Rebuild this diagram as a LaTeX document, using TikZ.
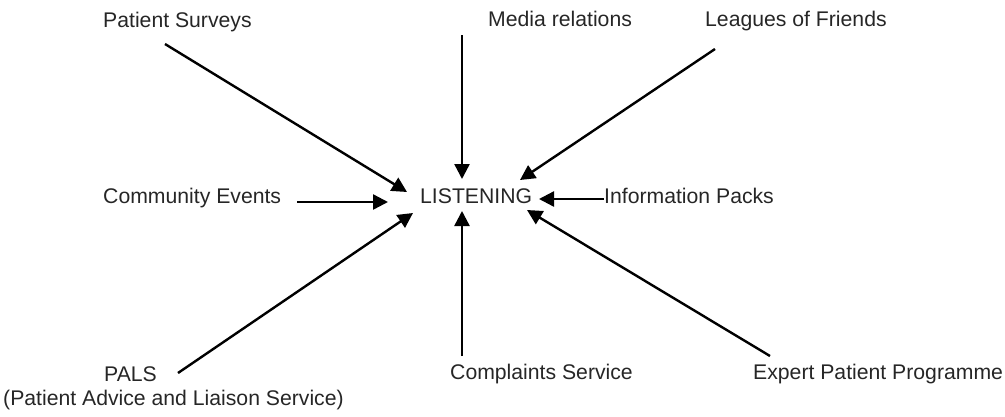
\documentclass[tikz,border=0pt]{standalone}
\usepackage{fontspec}
\setmainfont{Liberation Sans}
\usetikzlibrary{arrows.meta}
\tikzset{
  source/.style={anchor=base west,inner sep=0pt,text=black!85},
  feed/.style={line width=2.4pt,-{Triangle[length=15pt,width=15pt]}}
}
\begin{document}
\begin{tikzpicture}[x=1pt,y=-1pt,font=\fontsize{21.2}{25}\selectfont]
\useasboundingbox (0,0) rectangle (1005,416);
% labels round the centre
\node[source] (surveys) at (103,27) {Patient Surveys};
\node[source] (media) at (488,26) {Media relations};
\node[source] (leagues) at (705,26) {Leagues of Friends};
\node[source] (community) at (103,203) {Community Events};
\node[source] (listen) at (420,203) {LISTENING};
\node[source] (packs) at (604,203) {Information Packs};
\node[source] (pals) at (104,381) {PALS};
\node[source] (palsfull) at (3,405) {(Patient Advice and Liaison Service)};
\node[source] (complaints) at (450,379) {Complaints Service};
\node[source] (expert) at (753,379) {Expert Patient Programme};
% arrows into LISTENING
\foreach \name/\fx/\fy/\tx/\ty in {surveys/165/44/407/192,media/462/35/462/179,
  leagues/715/49/520/180,community/297/202/388/202,packs/604/199/539/199,
  pals/178/373/413/213,complaints/462/356/462/211,expert/770/356/527/210}{
  \coordinate (\name-from) at (\fx,\fy);
  \coordinate (\name-to) at (\tx,\ty);
  \draw[feed] (\name-from) -- (\name-to);
}
\end{tikzpicture}
\end{document}
